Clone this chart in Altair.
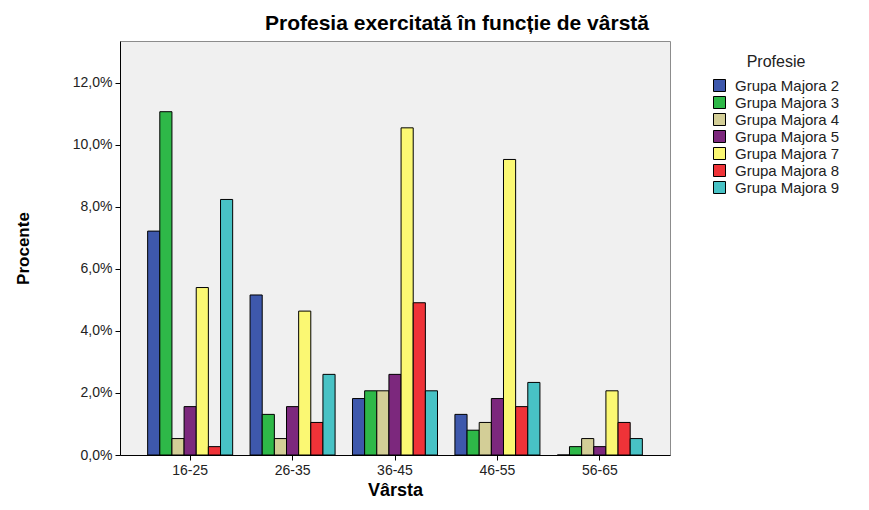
import altair as alt
import pandas as pd

ages = ["16-25", "26-35", "36-45", "46-55", "56-65"]
groups = ["Grupa Majora 2", "Grupa Majora 3", "Grupa Majora 4", "Grupa Majora 5",
          "Grupa Majora 7", "Grupa Majora 8", "Grupa Majora 9"]
colors = ["#3E58AC", "#2EB848", "#D3CE97", "#7C287D", "#FBF873", "#EF3338", "#48C2C5"]

gm2 = [7.22, 5.16, 1.82, 1.31, 0.0]
gm3 = [11.07, 1.31, 2.07, 0.80, 0.27]
gm4 = [0.53, 0.53, 2.07, 1.05, 0.53]
gm5 = [1.56, 1.56, 2.60, 1.82, 0.27]
gm7 = [5.40, 4.64, 10.55, 9.53, 2.07]
gm8 = [0.27, 1.05, 4.91, 1.56, 1.05]
gm9 = [8.24, 2.60, 2.07, 2.34, 0.53]

series = [gm2, gm3, gm4, gm5, gm7, gm8, gm9]
rows = []
for g, vals in zip(groups, series):
    for a, v in zip(ages, vals):
        rows.append({"Vârsta": a, "Profesie": g, "Procente": v})
df = pd.DataFrame(rows)

font = "Liberation Sans"

chart = alt.Chart(df).mark_bar(stroke="#000000", strokeWidth=1).encode(
    x=alt.X("Vârsta:N", sort=ages,
            scale=alt.Scale(paddingInner=0.17, paddingOuter=0.27),
            axis=alt.Axis(title="Vârsta", labelAngle=0, labelFont=font, labelFontSize=14,
                          labelColor="#222222", titleFont=font, titleFontSize=18,
                          titleFontWeight="bold", titleColor="#000000", titlePadding=4,
                          tickSize=5, tickColor="#000000", domainColor="#000000",
                          labelPadding=3)),
    xOffset=alt.XOffset("Profesie:N", sort=groups, scale=alt.Scale(paddingInner=0, paddingOuter=0)),
    y=alt.Y("Procente:Q",
            scale=alt.Scale(domain=[0, 13.35], nice=False, zero=True),
            axis=alt.Axis(title="Procente", values=[0, 2, 4, 6, 8, 10, 12],
                          labelExpr="replace(format(datum.value, '.1f'), '.', ',') + '%'",
                          grid=False, labelFont=font, labelFontSize=14, labelColor="#222222",
                          titleFont=font, titleFontSize=17, titleFontWeight="bold",
                          titleColor="#000000", titlePadding=40, tickSize=5,
                          tickColor="#000000", domainColor="#000000", labelPadding=3)),
    color=alt.Color("Profesie:N", sort=groups,
                    scale=alt.Scale(domain=groups, range=colors),
                    legend=alt.Legend(title="Profesie", orient="none", legendX=592, legendY=13,
                                      titleFont=font, titleFontSize=16, titleFontWeight="normal",
                                      titleColor="#222222", titleAnchor="middle",
                                      labelFont=font, labelFontSize=15, labelColor="#222222",
                                      symbolType="square", symbolSize=144, labelOffset=8,
                                      symbolStrokeColor="#000000", symbolStrokeWidth=1,
                                      rowPadding=0, titlePadding=8, symbolOpacity=1)),
).properties(
    width=550, height=414,
    title=alt.TitleParams("Profesia exercitată în funcție de vârstă", font=font, fontSize=21,
                          fontWeight="bold", color="#000000", dx=62, offset=7),
    autosize=alt.AutoSizeParams(type="none"),
    padding={"left": 112, "top": 33, "right": 183, "bottom": 48},
).configure_view(
    fill="#F0F0F0", stroke="#8C8C8C", strokeWidth=1
)

chart.save("out.html", embed_options={"renderer": "svg", "actions": False})
